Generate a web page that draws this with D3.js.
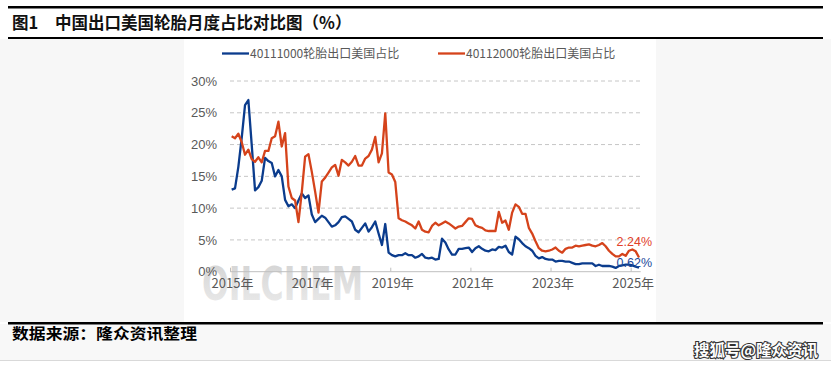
<!DOCTYPE html>
<html><head><meta charset="utf-8">
<script src="https://cdn.jsdelivr.net/npm/d3@7/dist/d3.min.js"></script>
<style>
html,body{margin:0;padding:0;background:#fff;}
svg{display:block;}
</style></head>
<body>
<svg id="c" width="831" height="368"></svg>
<script>
const title = "中国出口美国轮胎月度占比对比图（%）";
const seriesNames = ["40111000轮胎出口美国占比", "40112000轮胎出口美国占比"];
const yTicks = [0, 5, 10, 15, 20, 25, 30];
const xTickIdx = [0, 24, 48, 72, 96, 120];
const xTickLabels = ["2015年", "2017年", "2019年", "2021年", "2023年", "2025年"];
// monthly, Jan 2015 - Mar 2025 (%)
const blue = [12.9,13.1,16.5,21.0,26.2,27.0,20.0,12.8,13.3,14.3,17.9,17.4,
  17.1,15.0,16.0,15.0,11.3,10.3,10.6,10.0,11.2,12.3,11.6,12.0,
  9.0,7.8,8.3,8.8,8.5,7.8,7.1,7.3,7.8,8.6,8.7,8.3,
  7.9,6.6,6.2,6.9,7.6,6.3,7.0,7.9,6.0,4.2,7.5,3.0,
  2.6,2.4,2.6,2.6,2.9,2.6,2.6,2.2,2.4,2.8,2.2,2.1,
  2.2,1.9,2.0,5.2,4.6,3.5,2.7,2.7,3.6,3.6,3.7,3.8,
  3.1,3.7,4.0,3.6,3.3,3.2,3.5,3.4,3.9,3.8,4.1,3.1,
  2.7,5.5,5.1,4.5,4.0,3.7,3.3,2.5,2.1,2.3,2.0,1.9,
  1.9,1.6,1.7,1.7,1.6,1.6,1.4,1.2,1.2,1.3,1.3,1.3,
  1.3,0.9,1.1,0.9,0.9,0.9,0.8,0.6,0.9,1.0,1.1,1.1,
  1.0,0.8,0.62];
const red = [21.3,21.0,21.7,20.4,18.4,19.2,17.7,17.3,18.0,17.2,19.0,19.0,
  21.0,21.3,23.6,19.7,21.8,13.4,11.6,11.2,7.8,12.5,18.1,18.5,
  15.7,12.6,9.3,14.2,14.8,15.6,16.4,16.8,15.1,17.6,17.2,16.7,
  17.3,18.2,16.7,16.7,17.8,18.2,19.2,21.2,17.2,18.6,24.9,15.6,
  15.3,14.1,8.4,8.1,7.9,7.6,7.3,6.8,7.9,6.6,6.3,6.2,
  7.2,7.7,7.3,7.6,7.9,7.6,7.2,6.8,7.1,7.2,7.8,8.4,
  8.3,7.3,7.05,6.9,6.5,6.4,6.4,6.4,9.4,7.7,8.05,6.6,
  9.3,10.6,10.2,9.1,9.1,6.9,6.0,4.8,3.7,3.3,3.2,3.3,
  3.5,3.8,3.3,3.0,3.6,3.8,3.8,4.1,4.0,4.1,4.2,4.3,
  4.1,4.0,4.2,4.5,4.0,3.3,2.8,2.4,2.4,2.8,2.5,3.3,
  3.5,3.2,2.24];
const endLabels = ["0.62%", "2.24%"];
const colors = ["#0b3c8d", "#d5431b"];

const svg = d3.select("#c");
const W = 831, H = 368;
const cjk = "'Noto Sans CJK SC','Noto Sans',sans-serif";

// backgrounds
svg.append("rect").attr("x",0).attr("y",0).attr("width",W).attr("height",H).attr("fill","#fff");
svg.append("rect").attr("x",0).attr("y",39).attr("width",W).attr("height",283).attr("fill","#f7f7f7");
svg.append("rect").attr("x",184).attr("y",39).attr("width",472).attr("height",283).attr("fill","#fff");
svg.append("rect").attr("x",0).attr("y",324).attr("width",W).attr("height",36).attr("fill","#f8f8f8");
svg.append("line").attr("x1",0).attr("x2",W).attr("y1",360.5).attr("y2",360.5).attr("stroke","#d9d9d9").attr("stroke-width",1);

// rules
svg.append("rect").attr("x",8).attr("y",6).attr("width",815).attr("height",2.5).attr("fill","#000");
svg.append("rect").attr("x",8).attr("y",37).attr("width",815).attr("height",2).attr("fill","#000");
svg.append("rect").attr("x",8).attr("y",322).attr("width",815).attr("height",2.5).attr("fill","#000");

// title
svg.append("text").attr("x",12).attr("y",29).attr("font-family",cjk).attr("font-weight",700)
  .attr("font-size",16.5).attr("fill","#111").text("图1");
svg.append("text").attr("x",55).attr("y",29).attr("font-family",cjk).attr("font-weight",700)
  .attr("font-size",16.5).attr("fill","#111").text(title);

// footer
svg.append("text").attr("x",12).attr("y",339).attr("font-family",cjk).attr("font-weight",700)
  .attr("font-size",15).attr("fill","#000").attr("textLength",185).attr("lengthAdjust","spacingAndGlyphs")
  .text("数据来源：隆众资讯整理");
svg.append("text").attr("x",818).attr("y",356).attr("text-anchor","end").attr("font-family",cjk)
  .attr("font-weight",700).attr("font-size",15.5).attr("fill","#fff").attr("stroke","#333")
  .attr("stroke-width",2.2).attr("paint-order","stroke").text("搜狐号@隆众资讯");

// scales
const n = blue.length;
const x = d3.scaleLinear().domain([0, n]).range([230, 640.7]);
const y = d3.scaleLinear().domain([0, 30]).range([271.7, 81]);

// watermark
const defs = svg.append("defs");
const g1 = defs.append("linearGradient").attr("id","wm").attr("x1",0).attr("y1",0).attr("x2",0).attr("y2",1);
g1.append("stop").attr("offset","0%").attr("stop-color","#d2d2d2");
g1.append("stop").attr("offset","100%").attr("stop-color","#ececec");
svg.append("text").attr("x",202).attr("y",300).attr("font-family","'Liberation Sans Narrow','DejaVu Sans Condensed',Arial,sans-serif")
  .attr("font-weight",700).attr("font-size",46).attr("fill","url(#wm)")
  .attr("textLength",161).attr("lengthAdjust","spacingAndGlyphs").text("OILCHEM");

// grid
svg.append("g").selectAll("line").data(yTicks.filter(d => d > 0)).join("line")
  .attr("x1",x(0)).attr("x2",x(n)).attr("y1",d => y(d)).attr("y2",d => y(d))
  .attr("stroke","#c6c6c6").attr("stroke-width",1).attr("stroke-dasharray","4,3");

// y axis labels
const yAxis = svg.append("g").attr("transform",`translate(${x(0)},0)`)
  .call(d3.axisLeft(y).tickValues(yTicks).tickSize(0).tickPadding(13).tickFormat(d => d + "%"));
yAxis.select(".domain").remove();
yAxis.selectAll("text").attr("font-family","'Liberation Sans',Arial,sans-serif").attr("font-size",13).attr("fill","#595959");

// x axis
const xAxis = svg.append("g").attr("transform",`translate(0,${y(0)})`)
  .call(d3.axisBottom(x).tickValues(xTickIdx).tickSize(-4).tickPadding(12)
    .tickFormat((d,i) => xTickLabels[i]));
xAxis.select(".domain").attr("stroke","#bfbfbf").attr("d",`M${x(0)},0H${x(n)}`);
xAxis.selectAll(".tick line").attr("stroke","#bfbfbf");
xAxis.selectAll("text").attr("font-family",cjk).attr("font-size",13).attr("fill","#595959").attr("dx",2).attr("dy",4);

// lines
const line = d3.line().x((d,i) => x(i + 0.5)).y(d => y(d));
[blue, red].forEach((s, k) => {
  svg.append("path").datum(s).attr("d", line).attr("fill","none")
    .attr("stroke", colors[k]).attr("stroke-width",2.3).attr("stroke-linejoin","round");
});

// end labels
svg.append("text").attr("x",652).attr("y",y(blue[n-1]) - 1).attr("text-anchor","end")
  .attr("font-family","'Liberation Sans',Arial,sans-serif").attr("font-size",12.5).attr("fill","#1c4a9a").text(endLabels[0]);
svg.append("text").attr("x",652).attr("y",y(red[n-1]) - 11).attr("text-anchor","end")
  .attr("font-family","'Liberation Sans',Arial,sans-serif").attr("font-size",12.5).attr("fill","#e2402a").text(endLabels[1]);

// legend
const legX = [222, 438];
seriesNames.forEach((name, k) => {
  svg.append("line").attr("x1",legX[k]).attr("x2",legX[k]+27).attr("y1",53.5).attr("y2",53.5)
    .attr("stroke",colors[k]).attr("stroke-width",2.3);
  svg.append("text").attr("x",legX[k]+28).attr("y",58).attr("font-family",cjk)
    .attr("font-size",12).attr("fill","#595959").text(name);
});
</script>
</body></html>
